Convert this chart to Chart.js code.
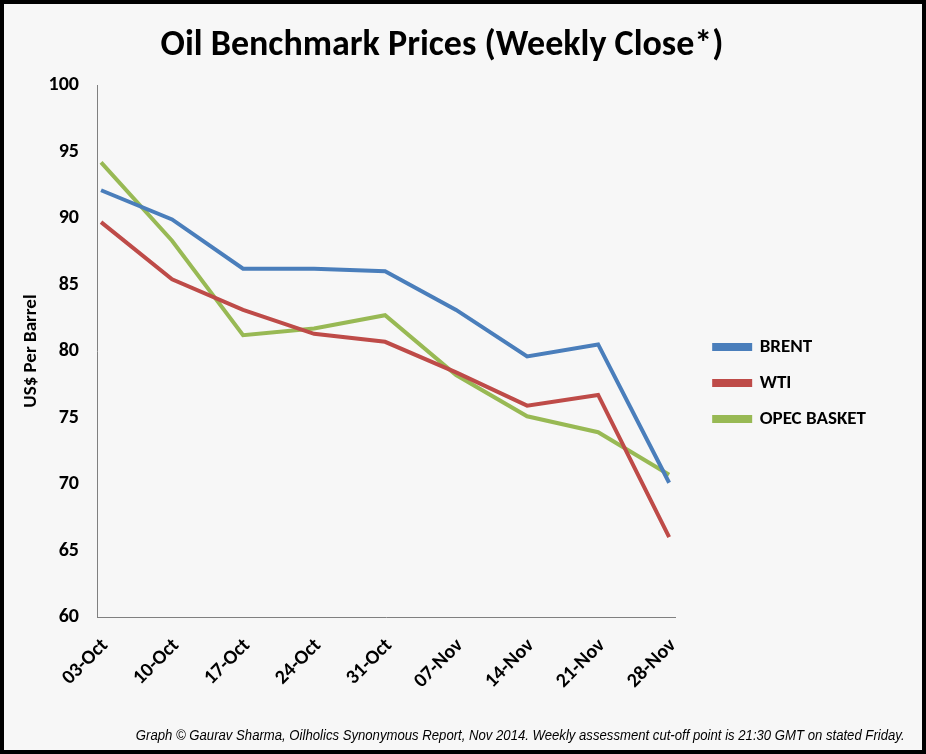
<!DOCTYPE html>
<html>
<head>
<meta charset="utf-8">
<script src="https://cdn.jsdelivr.net/npm/chart.js@4/dist/chart.umd.min.js"></script>
<style>
    html, body { margin: 0; padding: 0; background: #f7f7f7; }
    #frame {
        width: 926px; height: 754px; box-sizing: border-box;
        border: 4px solid #000; background: #f7f7f7; position: relative;
    }
    #myChart { display: block; }
    #footNote {
        position: absolute; right: 17px; top: 722px;
        font-family: "Liberation Sans Narrow", "Arial Narrow", "Liberation Sans", sans-serif;
        font-size: 15px; font-style: italic; color: #000; white-space: nowrap;
        transform: scaleX(0.876); transform-origin: right center;
    }
</style>
</head>
<body>
<div id="frame">
    <canvas id="myChart" width="918" height="746"></canvas>
    <div id="footNote">Graph &copy; Gaurav Sharma, Oilholics Synonymous Report, Nov 2014. Weekly assessment cut-off point is 21:30 GMT on stated Friday.</div>
</div>
<script>
// weekly close, US$ per barrel
const weeks = ['03-Oct', '10-Oct', '17-Oct', '24-Oct', '31-Oct', '07-Nov', '14-Nov', '21-Nov', '28-Nov'];
const brent = [92.1, 89.9, 86.2, 86.2, 86.0, 83.1, 79.6, 80.5, 70.1];
const wti = [89.7, 85.4, 83.1, 81.3, 80.7, 78.4, 75.9, 76.7, 66.0];
const opecBasket = [94.2, 88.3, 81.2, 81.7, 82.7, 78.2, 75.1, 73.9, 70.7];
const yTicks = [60, 65, 70, 75, 80, 85, 90, 95, 100];

const fontFamily = 'Calibri, Carlito, "Open Sans", sans-serif';
const boldFont = (size) => ({ family: fontFamily, size: size, weight: 'bold' });

// week index on x so the lines can sit a little inside the axis, like excel does
const toPoints = (values) => values.map((v, i) => ({ x: i, y: v }));

const makeLine = (label, data, color) => ({
    label: label,
    data: toPoints(data),
    borderColor: color,
    backgroundColor: color,
    borderWidth: 4,
    pointRadius: 0,
    tension: 0,
    fill: false
});

// nudge the title and legend blocks over to where the original has them
const blockShift = {
    id: 'blockShift',
    afterLayout(chart) {
        const lg = chart.legend;
        lg.left += 22;
        lg.right += 22;
        lg.top += 6;
        lg.bottom += 6;
        const tb = chart.titleBlock;
        tb.left += 13;
        tb.right += 13;
    }
};

const ctx = document.getElementById('myChart');

new Chart(ctx, {
    type: 'line',
    data: {
        datasets: [
            makeLine('BRENT', brent, '#4a7ebb'),
            makeLine('WTI', wti, '#be4b48'),
            makeLine('OPEC BASKET', opecBasket, '#98b954')
        ]
    },
    plugins: [blockShift],
    options: {
        responsive: false,
        animation: false,
        layout: { padding: { left: 0, right: 68, top: 0, bottom: 0 } },
        plugins: {
            title: {
                display: true,
                text: 'Oil Benchmark Prices (Weekly Close*)',
                color: '#000',
                font: { family: fontFamily, size: 36, weight: 'bold' },
                padding: { top: 20, bottom: 18 }
            },
            legend: {
                position: 'right',
                labels: {
                    color: '#000',
                    font: boldFont(19),
                    boxWidth: 36,
                    boxHeight: 4,
                    padding: 17
                }
            },
            tooltip: { enabled: false }
        },
        scales: {
            x: {
                type: 'linear',
                min: -0.057,
                max: 8.085,
                afterBuildTicks: (axis) => { axis.ticks = weeks.map((w, i) => ({ value: i })); },
                afterFit: (scale) => { scale.height = 133; },
                grid: { display: false, drawTicks: false },
                border: { display: true, color: '#808080', width: 1 },
                ticks: {
                    color: '#000',
                    font: boldFont(20),
                    minRotation: 45,
                    maxRotation: 45,
                    padding: 17,
                    labelOffset: 4,
                    autoSkip: false,
                    callback: (value) => weeks[value]
                }
            },
            y: {
                min: 60,
                max: 100,
                afterBuildTicks: (axis) => { axis.ticks = yTicks.map(v => ({ value: v })); },
                afterFit: (scale) => { scale.width = 93; },
                grid: { display: false, drawTicks: false },
                border: { display: true, color: '#808080', width: 1 },
                ticks: {
                    color: '#000',
                    font: boldFont(20),
                    padding: 18
                },
                title: {
                    display: true,
                    text: 'US$ Per Barrel',
                    color: '#000',
                    font: boldFont(19),
                    padding: { top: 16, bottom: 4 }
                }
            }
        }
    }
});
</script>
</body>
</html>
